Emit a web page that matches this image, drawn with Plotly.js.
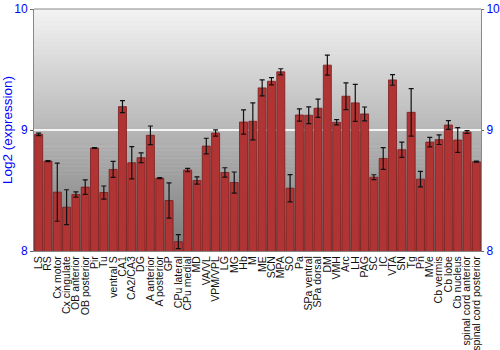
<!DOCTYPE html>
<html>
<head>
<meta charset="utf-8">
<script src="https://cdn.plot.ly/plotly-3.0.1.min.js"></script>
<style>html,body{margin:0;padding:0;background:#fff;}#chart{width:500px;height:350px;}</style>
</head>
<body>
<div id="chart"></div>
<script>
var regions = ["LS","RS","Cx motor","Cx cingulate","OB anterior","OB posterior","Pir","Tu","ventral S","CA1","CA2/CA3","DG","A anterior","A posterior","GP","CPu lateral","CPu medial","MD","VA/VL","VPM/VPL","LG","MG","Hb","M","ME","SCN","MPA","SO","Pa","SPa ventral","SPa dorsal","DM","VMH","Arc","LH","PAG","SC","IC","VTA","SN","Tg","Pn","MVe","Cb vermis","Cb lobe","Cb nucleus","spinal cord anterior","spinal cord posterior"];
var expression = [8.964,8.743,8.486,8.362,8.467,8.528,8.851,8.483,8.674,9.193,8.729,8.771,8.956,8.602,8.417,8.077,8.669,8.583,8.867,8.975,8.649,8.566,9.066,9.072,9.348,9.403,9.481,8.519,9.124,9.122,9.180,9.536,9.064,9.279,9.224,9.133,8.610,8.765,9.414,8.837,9.146,8.594,8.900,8.920,9.041,8.917,8.983,8.738];
var errors = [0.010,0.004,0.240,0.144,0.022,0.060,0.004,0.054,0.066,0.050,0.133,0.040,0.077,0.005,0.146,0.058,0.014,0.030,0.065,0.026,0.039,0.087,0.100,0.153,0.066,0.030,0.025,0.113,0.051,0.069,0.075,0.083,0.022,0.110,0.153,0.057,0.020,0.090,0.044,0.063,0.196,0.064,0.039,0.040,0.036,0.102,0.012,0.004];
var yTicks = [8,9,10];
var yRange = [8,10];

// background gradient bands (styling only)
var shapes = [];
var nb = 60, c0 = 243, c1 = 122;
for (var i = 0; i < nb; i++) {
  var t = (i + 0.5) / nb;
  var c = Math.round(c0 + (c1 - c0) * t);
  shapes.push({type:'rect', xref:'paper', yref:'paper', x0:0, x1:1,
    y1: 1 - i / nb, y0: 1 - (i + 1) / nb - 0.002,
    fillcolor:'rgb('+c+','+c+','+c+')', line:{width:0}, layer:'below'});
}

var traces = [
  {type:'bar', x:regions, y:expression, base:0,
   marker:{color:'#b03434', line:{color:'#7a1c1c', width:0.8}},
   error_y:{type:'data', array:errors, visible:true, color:'#111', thickness:1.2, width:2.5},
   hoverinfo:'x+y'},
  {type:'scatter', x:[regions[0], regions[regions.length-1]], y:[yRange[0], yRange[1]],
   yaxis:'y2', mode:'none', hoverinfo:'skip', showlegend:false}
];

var tickFont = {family:'Liberation Sans, Arial, sans-serif', size:12, color:'#0000ff'};
var layout = {
  width:500, height:350,
  margin:{l:34, r:19, t:9, b:99, pad:0},
  paper_bgcolor:'#ffffff', plot_bgcolor:'rgba(0,0,0,0)',
  showlegend:false, bargap:0.14,
  shapes: shapes,
  xaxis:{type:'category', tickmode:'array', tickvals:regions, ticktext:regions, tickangle:-90, ticks:'', showgrid:false, zeroline:false,
    showline:true, linecolor:'#888', linewidth:1, mirror:false,
    tickfont:{family:'Liberation Sans, Arial, sans-serif', size:10.5, color:'#111'}, automargin:false},
  yaxis:{range:yRange, tickvals:yTicks, ticktext:yTicks.map(String), ticks:'outside', ticklen:3, tickcolor:'#666',
    showline:true, linecolor:'#888', linewidth:1, showgrid:true, gridcolor:'#f4f4f4', gridwidth:1.5,
    zeroline:false, tickfont:tickFont, automargin:false,
    title:{text:'Log2 (expression)', font:{family:'Liberation Sans, Arial, sans-serif', size:13.5, color:'#0000ff'}, standoff:4}},
  yaxis2:{range:yRange, tickvals:yTicks, ticktext:yTicks.map(String), overlaying:'y', side:'right', ticks:'outside', ticklen:2,
    tickcolor:'#666', showline:true, linecolor:'#888', linewidth:1, showgrid:false, zeroline:false,
    tickfont:tickFont, automargin:false}
};
// top border
layout.shapes.push({type:'line', xref:'paper', yref:'paper', x0:0, x1:1, y0:1, y1:1, line:{color:'#888', width:1}});

Plotly.newPlot('chart', traces, layout, {staticPlot:true, displayModeBar:false});
</script>
</body>
</html>
